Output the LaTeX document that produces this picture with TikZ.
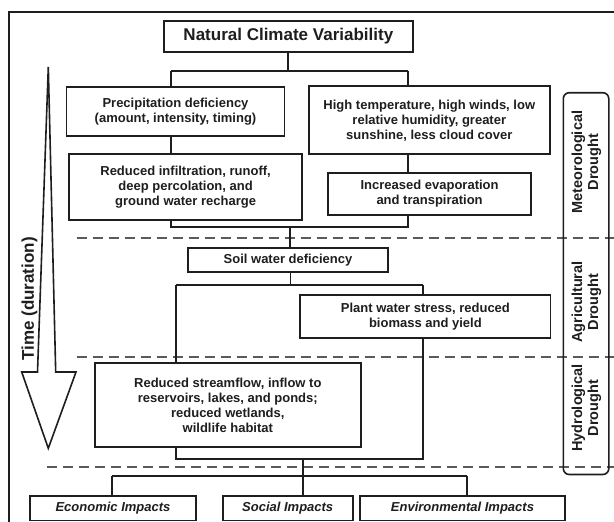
\documentclass[tikz,border=0pt]{standalone}
\usepackage{fontspec}
\setmainfont{Liberation Sans}
\definecolor{ink}{HTML}{1E1E1E}
\definecolor{dashc}{HTML}{5A5A5A}
\begin{document}
\begin{tikzpicture}[x=1pt,y=-1pt,
  box/.style={draw=ink,line width=1.8pt,fill=white,inner sep=0pt,align=center,text=ink,
    font=\bfseries\fontsize{13}{15}\selectfont},
  titlebox/.style={box,font=\bfseries\fontsize{17}{19}\selectfont},
  impbox/.style={box,font=\bfseries\itshape\fontsize{13}{15}\selectfont},
  conn/.style={draw=ink,line width=1.8pt},
  sepline/.style={draw=dashc,line width=1.6pt,dash pattern=on 10pt off 6pt},
  sidelabel/.style={rotate=90,align=center,text=ink,inner sep=0pt,
    font=\bfseries\fontsize{14.5}{16}\selectfont}]
\fill[white] (0,0) rectangle (614,522);
\useasboundingbox (0,0) rectangle (614,522);
% outer frame
\draw[ink,line width=1.8pt] (9.3,530) -- (9.3,12) -- (620,12);
% separators
\draw[sepline] (76.7,237.7) -- (616,237.7);
\draw[sepline] (76.7,357) -- (616,357);
\draw[sepline] (46.7,467) -- (616,467);
% side box
\draw[ink,line width=1.6pt,rounded corners=6pt] (563.3,92.7) rectangle (608.8,474.5);
\node[sidelabel] (met) at (586.3,162) {Meteorological\\Drought};
\node[sidelabel] (agr) at (586.3,302) {Agricultural\\Drought};
\node[sidelabel] (hyd) at (586.3,408) {Hydrological\\Drought};
% time arrow
\draw[ink,line width=1.6pt,line join=miter] (48.3,67) -- (55.7,372) -- (76,372) -- (48.3,448.3)
  -- (21.7,372) -- (37.5,372) -- cycle;
\node[rotate=90,text=ink,inner sep=0pt,font=\bfseries\fontsize{17}{19}\selectfont] (time) at (29.5,299) {Time (duration)};
% boxes
\node[titlebox,minimum width=249.3pt,minimum height=31.6pt] (title) at (288.35,36.5) {Natural Climate Variability};
\node[box,minimum width=218pt,minimum height=48.7pt] (precip) at (175.5,111.7) {Precipitation deficiency\\(amount, intensity, timing)};
\node[box,minimum width=240.7pt,minimum height=68pt] (hightemp) at (429.3,120.3) {High temperature, high winds, low\\relative humidity, greater\\sunshine, less cloud cover};
\node[box,minimum width=232.6pt,minimum height=65.7pt] (reduced) at (185.6,187.2) {Reduced infiltration, runoff,\\deep percolation, and\\ground water recharge};
\node[box,minimum width=203.3pt,minimum height=42.3pt] (increased) at (429.6,193.8) {Increased evaporation\\and transpiration};
\node[box,minimum width=200pt,minimum height=24pt] (soil) at (288,260) {Soil water deficiency};
\node[box,minimum width=250.2pt,minimum height=43pt] (plant) at (425.4,316.5) {Plant water stress, reduced\\biomass and yield};
\node[box,minimum width=265.6pt,minimum height=84pt] (stream) at (227.8,405) {Reduced streamflow, inflow to\\reservoirs, lakes, and ponds;\\reduced wetlands,\\wildlife habitat};
\node[impbox,minimum width=166pt,minimum height=24.5pt] (econ) at (113,508.2) {Economic Impacts};
\node[impbox,minimum width=130pt,minimum height=24.5pt] (social) at (287.7,508.2) {Social Impacts};
\node[impbox,minimum width=205pt,minimum height=24.5pt] (env) at (462.5,508.2) {Environmental Impacts};
% connector coordinates
\coordinate (s1L) at (171,71);
\coordinate (s1R) at (408,71);
\coordinate (j1L) at (171,226.7);
\coordinate (j1R) at (408,226.7);
\coordinate (j1C) at (289.7,226.7);
\coordinate (s2L) at (176,285);
\coordinate (s2R) at (422.7,285);
\coordinate (s2C) at (290.5,285);
\coordinate (j2L) at (176,458.7);
\coordinate (j2R) at (422.7,458.7);
\coordinate (j2C) at (302.6,458.7);
\coordinate (s3L) at (111.7,476);
\coordinate (s3R) at (466.7,476);
% connectors
\draw[conn] (title.south) -- (title.south |- s1L);
\draw[conn] (s1L) -- (s1R);
\draw[conn] (s1L) -- (s1L |- precip.north);
\draw[conn] (s1R) -- (s1R |- hightemp.north);
\draw[conn] (precip.south -| s1L) -- (reduced.north -| s1L);
\draw[conn] (hightemp.south -| s1R) -- (increased.north -| s1R);
\draw[conn] (reduced.south -| j1L) -- (j1L) -- (j1R) -- (increased.south -| j1R);
\draw[conn] (j1C) -- (soil.north -| j1C);
\draw[conn] (soil.south -| s2C) -- (s2C);
\draw[conn] (s2L) -- (s2R);
\draw[conn] (s2R) -- (plant.north -| s2R);
\draw[conn] (s2L) -- (stream.north -| s2L);
\draw[conn] (stream.south -| j2L) -- (j2L) -- (j2R) -- (plant.south -| j2R);
\draw[conn] (j2C) -- (social.north -| j2C);
\draw[conn] (s3L) -- (s3R);
\draw[conn] (s3L) -- (econ.north -| s3L);
\draw[conn] (s3R) -- (env.north -| s3R);
\end{tikzpicture}
\end{document}
